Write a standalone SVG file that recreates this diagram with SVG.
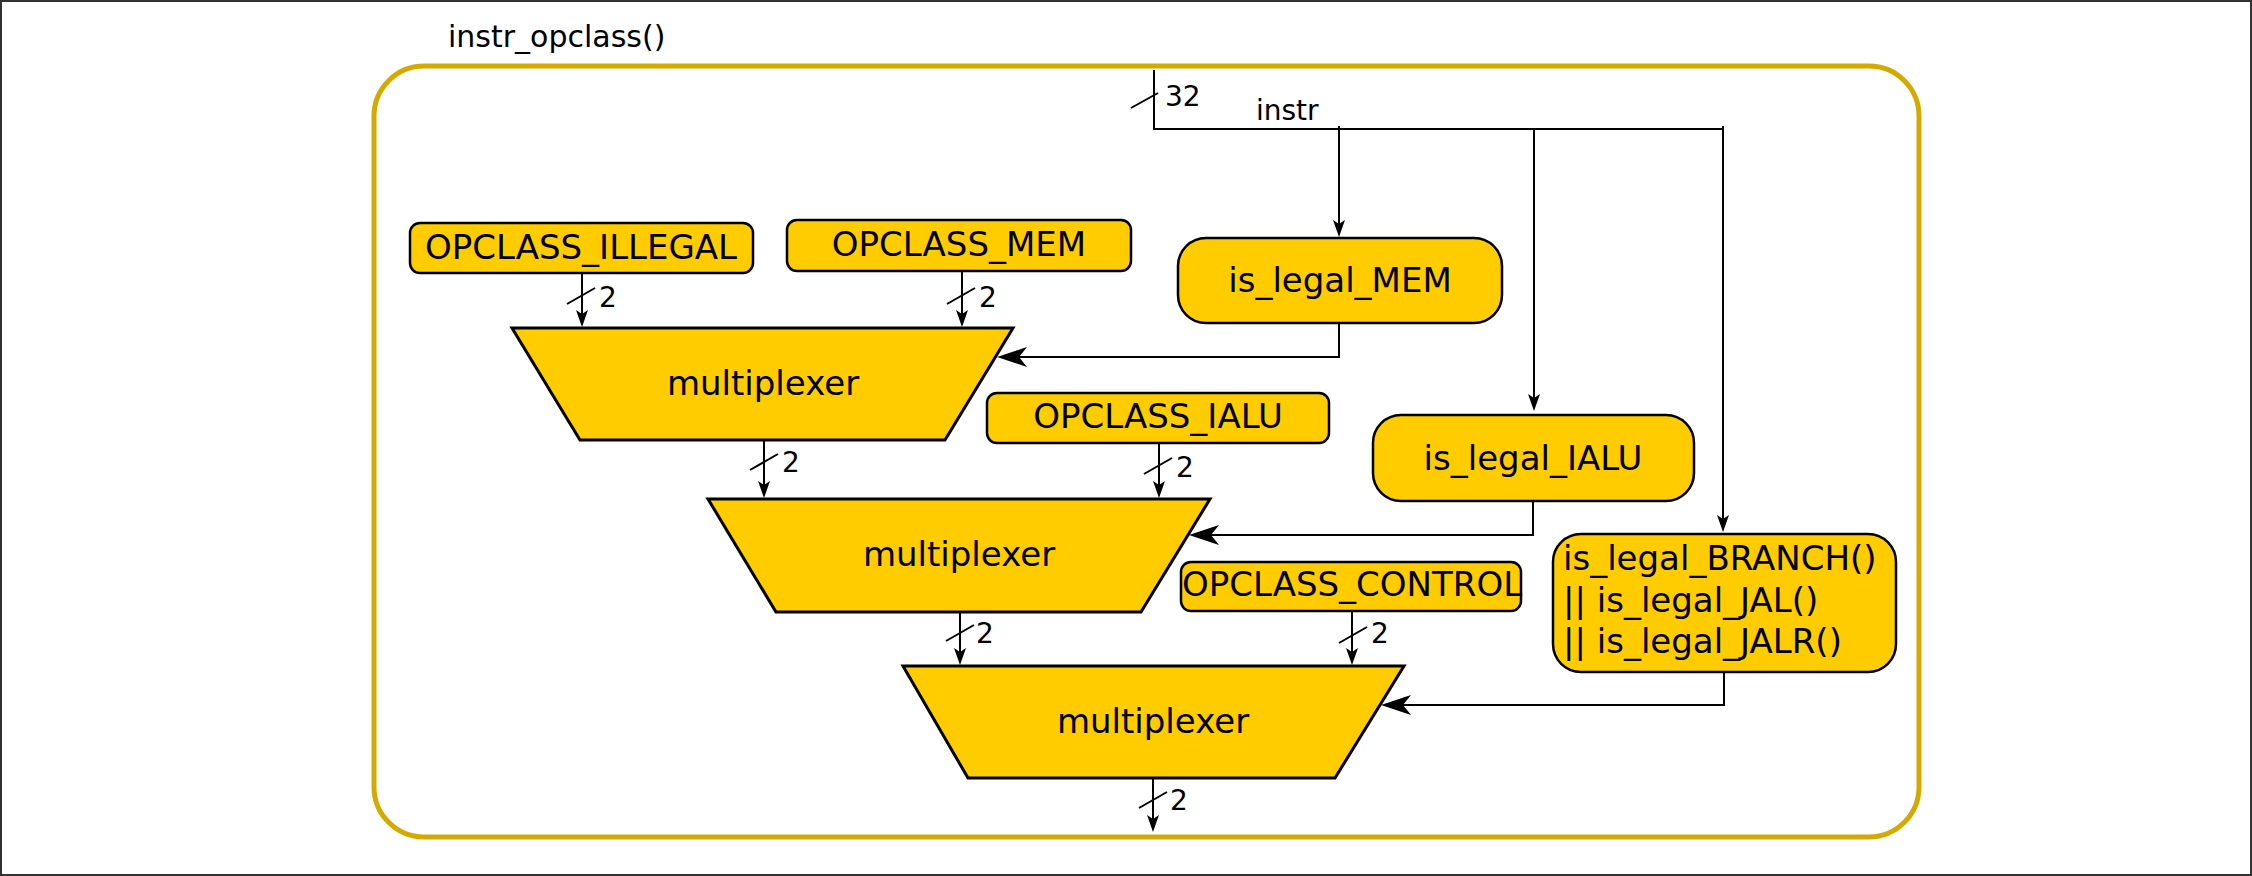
<svg xmlns="http://www.w3.org/2000/svg" width="2252" height="876" viewBox="0 0 2252 876">
<style>
.frame{fill:#fff;stroke:#333;stroke-width:2}
.cont{fill:none;stroke:#d4aa00;stroke-width:5}
.box{fill:#ffcc00;stroke:#000;stroke-width:2.5}
.mux{fill:#ffcc00;stroke:#000;stroke-width:3;stroke-linejoin:miter}
.t{font-family:"DejaVu Sans","Liberation Sans",sans-serif;fill:#000}
.node{font-size:34px;text-anchor:middle}
.lbl{font-size:28px}
.wire{fill:none;stroke:#000;stroke-width:2}
.sa{marker-end:url(#sa)}
.ba{marker-end:url(#ba)}
</style>
<defs>
<marker id="sa" viewBox="-18 -7 19 14" refX="-8" refY="0" markerWidth="19" markerHeight="14" orient="auto" markerUnits="userSpaceOnUse"><path d="M0,0 L-17,-6 L-13,0 L-17,6 Z" fill="#000"/></marker>
<marker id="ba" viewBox="-31 -11 32 22" refX="-12" refY="0" markerWidth="32" markerHeight="22" orient="auto" markerUnits="userSpaceOnUse"><path d="M0,0 L-30,-10 L-22,0 L-30,10 Z" fill="#000"/></marker>
</defs>
<rect class="frame" x="1" y="1" width="2250" height="874"/>
<g id="container">
<rect class="cont" x="374" y="66" width="1545" height="771" rx="50"/>
<text class="t" x="448" y="47" font-size="30">instr_opclass()</text>
</g>
<g id="connectors">
<path class="wire" d="M1154,70 V129 H1723"/>
<path class="wire" d="M1131,108 L1158,93"/>
<text class="t lbl" x="1165" y="106">32</text>
<text class="t lbl" x="1256" y="120">instr</text>
<path class="wire sa" d="M1339,126 V229"/>
<path class="wire sa" d="M1534,129 V403"/>
<path class="wire sa" d="M1723,126 V524"/>
<path class="wire sa" d="M582,273 V319"/>
<path class="wire" d="M567,304 L595,288"/>
<text class="t lbl" x="599" y="307">2</text>
<path class="wire sa" d="M962,271 V319"/>
<path class="wire" d="M947,304 L975,288"/>
<text class="t lbl" x="979" y="307">2</text>
<path class="wire ba" d="M1339,323 V357 H1009"/>
<path class="wire sa" d="M764,440 V490"/>
<path class="wire" d="M750,470 L778,454"/>
<text class="t lbl" x="782" y="472">2</text>
<path class="wire sa" d="M1159,443 V490"/>
<path class="wire" d="M1144,474 L1172,458"/>
<text class="t lbl" x="1176" y="477">2</text>
<path class="wire ba" d="M1533,501 V535 H1201"/>
<path class="wire sa" d="M960,612 V657"/>
<path class="wire" d="M946,641 L974,625"/>
<text class="t lbl" x="976" y="643">2</text>
<path class="wire sa" d="M1352,611 V657"/>
<path class="wire" d="M1339,643 L1367,627"/>
<text class="t lbl" x="1371" y="643">2</text>
<path class="wire ba" d="M1724,672 V705 H1393"/>
<path class="wire sa" d="M1153,778 V824"/>
<path class="wire" d="M1139,808 L1167,792"/>
<text class="t lbl" x="1170" y="810">2</text>
</g>
<g id="opclass_illegal">
<rect class="box" x="410" y="223" width="343" height="50" rx="10"/>
<text class="t node" x="581" y="259">OPCLASS_ILLEGAL</text>
</g>
<g id="opclass_mem">
<rect class="box" x="787" y="220" width="344" height="51" rx="10"/>
<text class="t node" x="959" y="256">OPCLASS_MEM</text>
</g>
<g id="is_legal_mem">
<rect class="box" x="1178" y="238" width="324" height="85" rx="28"/>
<text class="t node" x="1340" y="292">is_legal_MEM</text>
</g>
<g id="mux1">
<path class="mux" d="M512,328 L1013,328 L945,440 L580,440 Z"/>
<text class="t node" x="763" y="395" font-size="33">multiplexer</text>
</g>
<g id="opclass_ialu">
<rect class="box" x="987" y="393" width="342" height="50" rx="10"/>
<text class="t node" x="1158" y="428">OPCLASS_IALU</text>
</g>
<g id="is_legal_ialu">
<rect class="box" x="1373" y="415" width="321" height="86" rx="28"/>
<text class="t node" x="1533" y="470">is_legal_IALU</text>
</g>
<g id="mux2">
<path class="mux" d="M708,499 L1210,499 L1141,612 L776,612 Z"/>
<text class="t node" x="959" y="566" font-size="33">multiplexer</text>
</g>
<g id="opclass_control">
<rect class="box" x="1181" y="562" width="340" height="49" rx="10"/>
<text class="t node" x="1352" y="596">OPCLASS_CONTROL</text>
</g>
<g id="is_legal_branch">
<rect class="box" x="1553" y="534" width="343" height="138" rx="28"/>
<text class="t" x="1563" y="570" font-size="34">is_legal_BRANCH()</text>
<text class="t" x="1563" y="612" font-size="34">|| is_legal_JAL()</text>
<text class="t" x="1563" y="653" font-size="34">|| is_legal_JALR()</text>
</g>
<g id="mux3">
<path class="mux" d="M903,666 L1404,666 L1335,778 L968,778 Z"/>
<text class="t node" x="1153" y="733" font-size="33">multiplexer</text>
</g>
</svg>
